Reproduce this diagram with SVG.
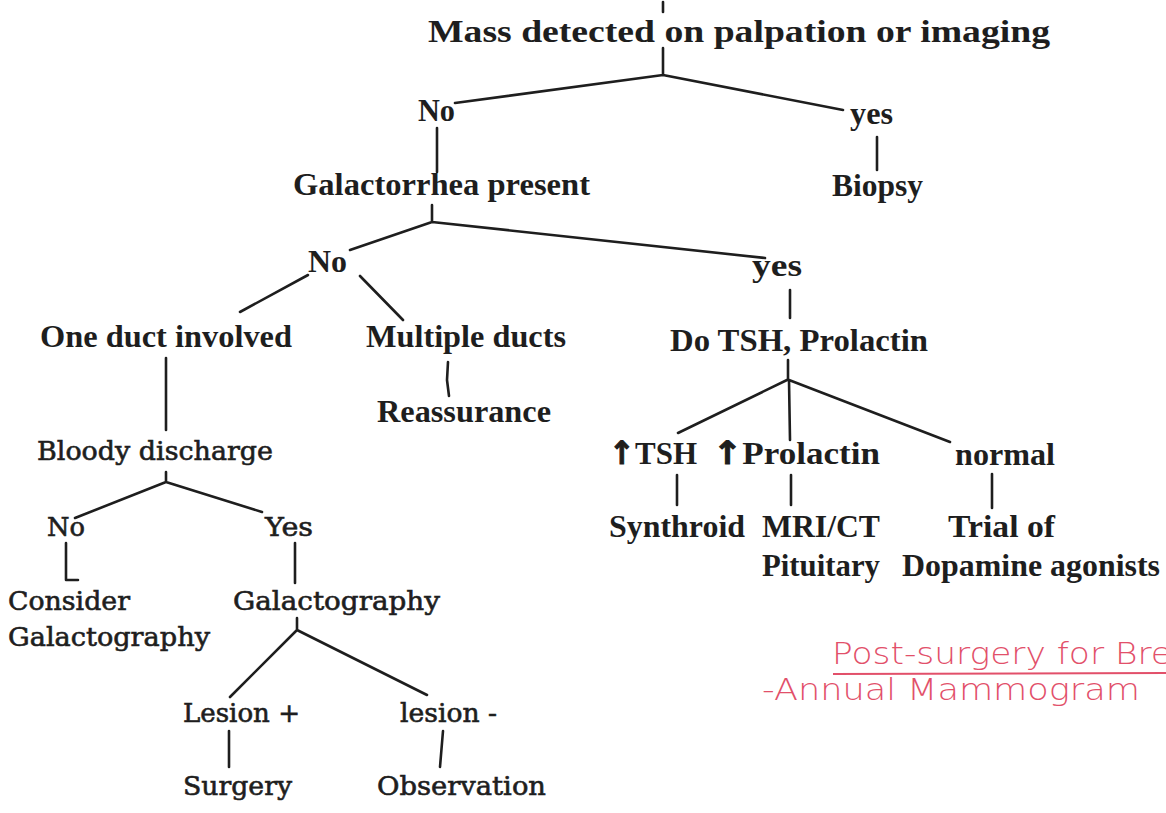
<svg xmlns="http://www.w3.org/2000/svg" width="1166" height="813" viewBox="0 0 1166 813">
<style>
.t{font-family:"Liberation Serif","Times New Roman",Times,serif;font-weight:700;font-size:32px;fill:#1e1e1e}
.c{font-family:"DejaVu Serif","Liberation Serif",serif;font-weight:400;font-size:26px;fill:#1e1e1e;stroke:#1e1e1e;stroke-width:0.6}
.h{font-family:"DejaVu Sans","Liberation Sans",sans-serif;font-weight:200;font-size:31px;fill:#e2506a}
.ar{font-family:"DejaVu Sans","Liberation Sans",sans-serif;font-weight:700;stroke:#1e1e1e;stroke-width:1}
.ln{stroke:#1e1e1e;stroke-width:2.6;fill:none;stroke-linecap:round;stroke-linejoin:round}
</style>
<rect width="1166" height="813" fill="#ffffff"/>
<g id="connectors" class="ln">
<path d="M663,2 L663,12"/>
<path d="M663,48 L663,75 M663,75 L455,103 M663,75 L843,110"/>
<path d="M437,128 L437,172"/>
<path d="M877,137 L877,170"/>
<path d="M432,205 L432,222 M432,222 L350,250 M432,222 L765,258"/>
<path d="M308,275 L240,312 M360,276 L403,320"/>
<path d="M790,290 L790,318"/>
<path d="M448,362 L447,380 L449,396"/>
<path d="M166,358 L166,430"/>
<path d="M788,360 L788,380 M787,380 L678,433 M789,380 L790,440 M789,380 L950,442"/>
<path d="M677,475 L677,505"/>
<path d="M791,475 L791,505"/>
<path d="M992,474 L992,508"/>
<path d="M166,472 L166,482 M166,482 L75,518 M166,482 L262,512"/>
<path d="M66,543 L66,580 L78,580"/>
<path d="M295,543 L295,583"/>
<path d="M297,618 L297,630 M297,630 L230,697 M297,630 L427,695"/>
<path d="M229,731 L229,767"/>
<path d="M443,731 L440,767"/>
</g>
<g id="n-mass"><text class="t" x="428" y="42" font-size="37" textLength="622" lengthAdjust="spacingAndGlyphs">Mass detected on palpation or imaging</text></g>
<g id="n-no1"><text class="t" x="418" y="121" textLength="37" lengthAdjust="spacingAndGlyphs">No</text></g>
<g id="n-yes1"><text class="t" x="850" y="124" textLength="43" lengthAdjust="spacingAndGlyphs">yes</text></g>
<g id="n-gal"><text class="t" x="293" y="195" textLength="297" lengthAdjust="spacingAndGlyphs">Galactorrhea present</text></g>
<g id="n-biopsy"><text class="t" x="832" y="196" textLength="91" lengthAdjust="spacingAndGlyphs">Biopsy</text></g>
<g id="n-no2"><text class="t" x="308" y="272" textLength="39" lengthAdjust="spacingAndGlyphs">No</text></g>
<g id="n-yes2"><text class="t" x="752" y="276" textLength="50" lengthAdjust="spacingAndGlyphs">yes</text></g>
<g id="n-one"><text class="t" x="40" y="347" textLength="252" lengthAdjust="spacingAndGlyphs">One duct involved</text></g>
<g id="n-multi"><text class="t" x="366" y="347" textLength="200" lengthAdjust="spacingAndGlyphs">Multiple ducts</text></g>
<g id="n-tsh"><text class="t" x="670" y="351" textLength="258" lengthAdjust="spacingAndGlyphs">Do TSH, Prolactin</text></g>
<g id="n-reass"><text class="t" x="377" y="422" textLength="174" lengthAdjust="spacingAndGlyphs">Reassurance</text></g>
<g id="n-bloody"><text class="c" x="37" y="460" textLength="236" lengthAdjust="spacingAndGlyphs">Bloody discharge</text></g>
<g id="n-uptsh"><text class="t" x="609" y="464" textLength="88" lengthAdjust="spacingAndGlyphs"><tspan class="ar">↑</tspan>TSH</text></g>
<g id="n-upprl"><text class="t" x="713" y="464" textLength="167" lengthAdjust="spacingAndGlyphs"><tspan class="ar">↑</tspan>Prolactin</text></g>
<g id="n-normal"><text class="t" x="955" y="465" textLength="100" lengthAdjust="spacingAndGlyphs">normal</text></g>
<g id="n-synth"><text class="t" x="609" y="537" textLength="136" lengthAdjust="spacingAndGlyphs">Synthroid</text></g>
<g id="n-mri"><text class="t" x="762" y="537" textLength="118" lengthAdjust="spacingAndGlyphs">MRI/CT</text><text class="t" x="762" y="576" textLength="118" lengthAdjust="spacingAndGlyphs">Pituitary</text></g>
<g id="n-trial"><text class="t" x="948" y="537" textLength="107" lengthAdjust="spacingAndGlyphs">Trial of</text><text class="t" x="902" y="576" textLength="258" lengthAdjust="spacingAndGlyphs">Dopamine agonists</text></g>
<g id="n-no3"><text class="c" x="47" y="536" textLength="38" lengthAdjust="spacingAndGlyphs">No</text></g>
<g id="n-yes3"><text class="c" x="265" y="536" textLength="48" lengthAdjust="spacingAndGlyphs">Yes</text></g>
<g id="n-consider"><text class="c" x="8" y="610" textLength="122" lengthAdjust="spacingAndGlyphs">Consider</text><text class="c" x="8" y="646" textLength="202" lengthAdjust="spacingAndGlyphs">Galactography</text></g>
<g id="n-galacto"><text class="c" x="233" y="610" textLength="207" lengthAdjust="spacingAndGlyphs">Galactography</text></g>
<g id="n-lesp"><text class="c" x="183" y="722" textLength="117" lengthAdjust="spacingAndGlyphs">Lesion +</text></g>
<g id="n-lesm"><text class="c" x="400" y="722" textLength="97" lengthAdjust="spacingAndGlyphs">lesion -</text></g>
<g id="n-surgery"><text class="c" x="183" y="795" textLength="109" lengthAdjust="spacingAndGlyphs">Surgery</text></g>
<g id="n-obs"><text class="c" x="377" y="795" textLength="169" lengthAdjust="spacingAndGlyphs">Observation</text></g>
<g id="note">
<text class="h" x="832" y="664" textLength="340" lengthAdjust="spacingAndGlyphs">Post-surgery for Bre</text>
<path d="M833,674 L1166,673" stroke="#e2506a" stroke-width="2" fill="none"/>
<text class="h" x="762" y="700" textLength="378" lengthAdjust="spacingAndGlyphs">-Annual Mammogram</text>
</g>
</svg>
